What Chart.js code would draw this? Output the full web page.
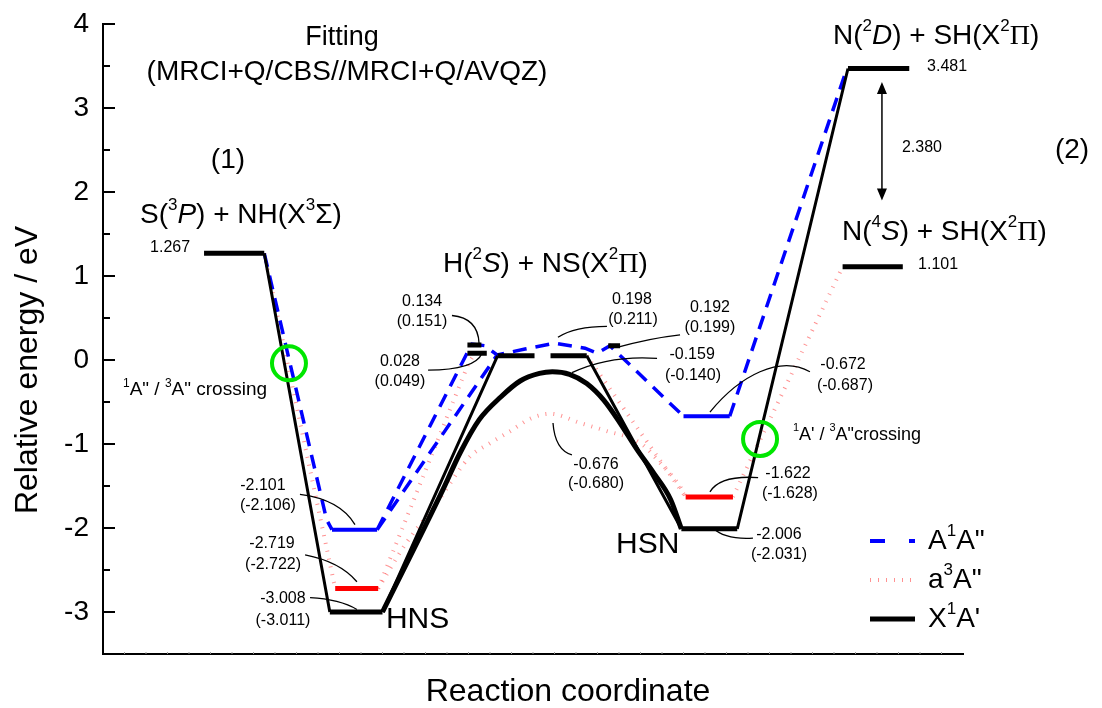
<!DOCTYPE html>
<html>
<head>
<meta charset="utf-8">
<script src="https://cdn.jsdelivr.net/npm/chart.js@4.4.1/dist/chart.umd.min.js"></script>
<style>
  html, body { margin: 0; padding: 0; background: #fff; }
</style>
</head>
<body>
<canvas id="pesChart" width="1102" height="708"></canvas>
<script>
const FONT = "'Liberation Sans', Arial, sans-serif";
const SERIF = "'Liberation Serif', 'Times New Roman', serif";

// energy axis (eV)
const yTicks = [-3, -2, -1, 0, 1, 2, 3, 4];

// legend names
const seriesNames = ["A1A\"", "a3A\"", "X1A'"];

// stationary points: [reaction coordinate start, end, energy / eV]
const x1Levels = [
    [4.7, 7.5, 1.27],     // S(3P) + NH
    [10.55, 13.0, -3.0],  // HNS
    [26.9, 29.5, -2.01],  // HSN
    [34.65, 37.5, 3.47],  // N(2D) + SH
    [34.4, 37.2, 1.11],   // N(4S) + SH
    [16.95, 17.6, 0.18],
    [16.95, 17.85, 0.08],
    [23.5, 24.05, 0.17],
];
const x1Asymptote = [[18.35, 22.5, 0.05]]; // H(2S) + NS
const a3Levels = [[10.8, 12.8, -2.72], [27.1, 29.3, -1.63]];
const a1Levels = [[10.65, 12.75, -2.02], [27.0, 29.15, -0.67]];

// connecting paths [reaction coordinate, energy]
const x1Paths = [
    [[7.5, 1.27], [10.55, -3.0]],
    [[13.0, -3.0], [18.35, 0.05]],
    [[22.5, 0.05], [26.9, -2.01]],
    [[29.5, -2.01], [34.65, 3.47]],
];
const x1Isomerization = [
    [13.0, -3.0], [15.8, -1.55], [16.6, -1.11], [17.5, -0.71], [18.5, -0.44],
    [19.4, -0.25], [20.3, -0.16], [20.9, -0.14], [21.7, -0.17], [22.5, -0.28],
    [23.3, -0.48], [24.05, -0.75], [24.85, -1.07], [25.6, -1.34], [26.4, -1.66],
    [26.9, -2.01],
];
const a1Paths = [
    [[7.5, 1.27], [10.4, -1.9], [10.65, -2.02]],
    [[12.75, -2.02], [16.93, 0.08], [17.16, 0.19], [17.77, 0.17], [18.33, 0.06],
     [19.63, 0.13], [21.02, 0.2], [22.42, 0.14], [22.98, 0.08], [23.58, 0.17], [27.0, -0.67]],
    [[12.75, -2.02], [18.33, 0.06]],
    [[29.15, -0.67], [34.6, 3.47]],
];
const a3Paths = [
    [[7.5, 1.27], [10.8, -2.72]],
    [[12.8, -2.72], [17.0, -0.04], [17.3, 0.08]],
    [[22.5, 0.05], [27.1, -1.63]],
    [[29.3, -1.63], [34.4, 1.11]],
];
const a3Isomerization = [
    [12.8, -2.72], [14.05, -2.2], [15.53, -1.7], [17.07, -1.15], [18.0, -0.99],
    [18.8, -0.87], [19.95, -0.69], [20.8, -0.64], [22.2, -0.75], [23.35, -0.84],
    [25.0, -0.99], [25.9, -1.22], [26.85, -1.51], [27.1, -1.63],
];

// energy labels: [x, y, text]
const valueLabels = [
    [3.12, 1.34, "1.267"], [39.26, 3.49, "3.481"], [38.09, 2.53, "2.380"], [38.84, 1.14, "1.101"],
    [7.44, -1.49, "-2.101"], [7.67, -1.73, "(-2.106)"],
    [7.86, -2.19, "-2.719"], [7.91, -2.44, "(-2.722)"],
    [8.37, -2.84, "-3.008"], [8.37, -3.10, "(-3.011)"],
    [14.84, 0.70, "0.134"], [14.84, 0.46, "(0.151)"],
    [13.81, -0.02, "0.028"], [13.81, -0.26, "(0.049)"],
    [24.6, 0.72, "0.198"], [24.65, 0.48, "(0.211)"],
    [28.23, 0.62, "0.192"], [28.23, 0.38, "(0.199)"],
    [27.4, 0.06, "-0.159"], [27.44, -0.19, "(-0.140)"],
    [34.42, -0.05, "-0.672"], [34.51, -0.30, "(-0.687)"],
    [22.93, -1.24, "-0.676"], [22.93, -1.47, "(-0.680)"],
    [31.86, -1.35, "-1.622"], [31.95, -1.59, "(-1.628)"],
    [31.44, -2.08, "-2.006"], [31.44, -2.32, "(-2.031)"],
];

// leader curves: [start, control(s)..., end] in [x, energy]
const leaders = [
    [[9.16, -1.60], [11.02, -1.66], [11.72, -1.96]],
    [[9.40, -2.32], [11.02, -2.40], [11.81, -2.64]],
    [[9.63, -2.83], [11.02, -2.85], [11.81, -2.97]],
    [[16.23, 0.53], [17.44, 0.50], [17.49, 0.20]],
    [[15.12, -0.12], [17.30, -0.12], [17.63, 0.08]],
    [[21.16, 0.27], [21.95, 0.40], [23.44, 0.40]],
    [[23.91, 0.15], [25.44, 0.26], [26.84, 0.30]],
    [[21.81, -0.15], [23.58, 0.06], [25.77, 0.02]],
    [[20.93, -0.75], [21.02, -1.07], [21.81, -1.13]],
    [[28.23, -0.62], [29.63, -0.18], [31.49, 0.06], [32.88, -0.14]],
    [[28.23, -1.57], [28.70, -1.37], [30.47, -1.40]],
    [[28.37, -2.00], [28.93, -2.14], [30.23, -2.12]],
];

// crossing points [x, energy]
const crossings = [[8.65, -0.04], [30.56, -0.94]];
// gap arrow between N(2D) and N(4S) asymptotes
const gapArrow = [36.23, 3.31, 1.90];

// rich text: [x, y, align, size, segments]; segment style '^' sup, 'i' italic, 's' serif
const textLabels = [
    [11.12, 3.84, "center", 27, [["Fitting", ""]]],
    [11.35, 3.42, "center", 28, [["(MRCI+Q/CBS//MRCI+Q/AVQZ)", ""]]],
    [5.81, 2.38, "center", 28, [["(1)", ""]]],
    [45.07, 2.50, "center", 28, [["(2)", ""]]],
    [1.72, 1.72, "left", 28, [["S(", ""], ["3", "^"], ["P", "i"], [") + NH(X", ""], ["3", "^"], ["\u03A3", ""], [")", ""]]],
    [15.81, 1.14, "left", 28, [["H(", ""], ["2", "^"], ["S", "i"], [") + NS(X", ""], ["2", "^"], ["\u03A0", "s"], [")", ""]]],
    [33.95, 3.85, "left", 28, [["N(", ""], ["2", "^"], ["D", "i"], [") + SH(X", ""], ["2", "^"], ["\u03A0", "s"], [")", ""]]],
    [34.37, 1.52, "left", 28, [["N(", ""], ["4", "^"], ["S", "i"], [") + SH(X", ""], ["2", "^"], ["\u03A0", "s"], [")", ""]]],
    [13.16, -3.09, "left", 30, [["HNS", ""]]],
    [23.86, -2.20, "left", 30, [["HSN", ""]]],
    [0.93, -0.36, "left", 19, [["1", "^"], ["A\" / ", ""], ["3", "^"], ["A\" crossing", ""]]],
    [32.09, -0.89, "left", 18, [["1", "^"], ["A' / ", ""], ["3", "^"], ["A\"crossing", ""]]],
];

const BLUE = "#0000ff";
const RED = "#ff0000";
const PINK = "rgba(255, 110, 110, 0.75)";

function joinPaths(paths) {
    const out = [];
    paths.forEach((p, i) => {
        if (i) out.push({ x: p[0][0], y: null });
        p.forEach(([x, y]) => out.push({ x: x, y: y }));
    });
    return out;
}
function levelPaths(levels) {
    return levels.map(([a, b, e]) => [[a, e], [b, e]]);
}

function segFont(s, size) {
    if (s === "^") return Math.round(size * 0.62) + "px " + FONT;
    if (s === "i") return "italic " + size + "px " + FONT;
    if (s === "s") return size + "px " + SERIF;
    return size + "px " + FONT;
}
function segWidth(ctx, segs, size) {
    let w = 0;
    segs.forEach(([t, s]) => {
        ctx.font = segFont(s, size);
        w += ctx.measureText(t).width;
    });
    return w;
}
function drawRich(ctx, segs, x, y, size, align) {
    let cx = align === "center" ? x - segWidth(ctx, segs, size) / 2 : x;
    ctx.textAlign = "left";
    ctx.textBaseline = "middle";
    segs.forEach(([t, s]) => {
        ctx.font = segFont(s, size);
        ctx.fillText(t, cx, s === "^" ? y - size * 0.36 : y);
        cx += ctx.measureText(t).width;
    });
}

const annotations = {
    id: "annotations",
    afterDraw(chart) {
        const ctx = chart.ctx;
        const xs = chart.scales.x, ys = chart.scales.y;
        const px = v => xs.getPixelForValue(v);
        const py = v => ys.getPixelForValue(v);
        const area = chart.chartArea;
        ctx.save();
        ctx.fillStyle = "#000";
        ctx.strokeStyle = "#000";

        // inward ticks on the energy axis
        ctx.lineWidth = 2;
        for (let v = -3.5; v <= 4; v += 0.5) {
            const len = Number.isInteger(v) ? 12 : 7;
            ctx.beginPath();
            ctx.moveTo(area.left, py(v));
            ctx.lineTo(area.left + len, py(v));
            ctx.stroke();
        }
        ctx.lineWidth = 1;
        ctx.strokeStyle = "#999";
        for (let v = 1; v < 40; v++) {
            ctx.beginPath();
            ctx.moveTo(px(v), area.bottom);
            ctx.lineTo(px(v), area.bottom - 2);
            ctx.stroke();
        }
        ctx.strokeStyle = "#000";

        // leader curves
        ctx.lineWidth = 1.3;
        leaders.forEach(l => {
            const p = l.map(([x, y]) => [px(x), py(y)]);
            ctx.beginPath();
            ctx.moveTo(p[0][0], p[0][1]);
            if (p.length === 3) ctx.quadraticCurveTo(p[1][0], p[1][1], p[2][0], p[2][1]);
            else ctx.bezierCurveTo(p[1][0], p[1][1], p[2][0], p[2][1], p[3][0], p[3][1]);
            ctx.stroke();
        });

        // crossing circles
        ctx.strokeStyle = "#00e600";
        ctx.lineWidth = 4;
        crossings.forEach(([x, y]) => {
            ctx.beginPath();
            ctx.arc(px(x), py(y), 17, 0, Math.PI * 2);
            ctx.stroke();
        });

        // double-headed arrow
        const ax = px(gapArrow[0]), ay1 = py(gapArrow[1]), ay2 = py(gapArrow[2]);
        ctx.strokeStyle = "#000";
        ctx.lineWidth = 1.5;
        ctx.beginPath();
        ctx.moveTo(ax, ay1 + 8);
        ctx.lineTo(ax, ay2 - 8);
        ctx.stroke();
        ctx.beginPath();
        ctx.moveTo(ax, ay1); ctx.lineTo(ax - 5, ay1 + 12); ctx.lineTo(ax + 5, ay1 + 12); ctx.closePath();
        ctx.moveTo(ax, ay2); ctx.lineTo(ax - 5, ay2 - 12); ctx.lineTo(ax + 5, ay2 - 12); ctx.closePath();
        ctx.fill();

        // energy values
        ctx.textAlign = "center";
        ctx.textBaseline = "middle";
        ctx.font = "16px " + FONT;
        valueLabels.forEach(([x, y, t]) => ctx.fillText(t, px(x), py(y)));

        // species and notes
        textLabels.forEach(([x, y, align, size, segs]) => drawRich(ctx, segs, px(x), py(y), size, align));

        // legend
        const legendRows = [
            { y: 541, color: BLUE, width: 4, dash: [15, 24], name: [["A", ""], ["1", "^"], ["A\"", ""]] },
            { y: 580, color: PINK, width: 4, dash: [1, 7], name: [["a", ""], ["3", "^"], ["A\"", ""]] },
            { y: 619, color: "#000", width: 5, dash: [], name: [["X", ""], ["1", "^"], ["A'", ""]] },
        ];
        legendRows.forEach(r => {
            ctx.strokeStyle = r.color;
            ctx.lineWidth = r.width;
            ctx.setLineDash(r.dash);
            ctx.beginPath();
            ctx.moveTo(870, r.y);
            ctx.lineTo(915, r.y);
            ctx.stroke();
            ctx.setLineDash([]);
            ctx.fillStyle = "#000";
            drawRich(ctx, r.name, 928, r.y, 28, "left");
        });

        // axis titles
        ctx.fillStyle = "#000";
        ctx.font = "32px " + FONT;
        ctx.textAlign = "center";
        ctx.textBaseline = "middle";
        ctx.fillText("Reaction coordinate", 568, 692);
        ctx.save();
        ctx.translate(28, 370);
        ctx.rotate(-Math.PI / 2);
        ctx.font = "32px " + FONT;
        ctx.fillText("Relative energy / eV", 0, 0);
        ctx.restore();

        ctx.restore();
    },
};

const canvas = document.getElementById("pesChart");

new Chart(canvas, {
    type: "line",
    data: {
        datasets: [
            { label: seriesNames[2], data: joinPaths(levelPaths(x1Levels)), borderColor: "#000", borderWidth: 5, order: 0 },
            { label: seriesNames[2], data: joinPaths(levelPaths(x1Asymptote)), borderColor: "#000", borderWidth: 5, borderDash: [37, 16], order: 0 },
            { label: seriesNames[2], data: joinPaths(x1Paths), borderColor: "#000", borderWidth: 3, order: 1 },
            { label: seriesNames[2], data: joinPaths([x1Isomerization]), borderColor: "#000", borderWidth: 5, cubicInterpolationMode: "monotone", order: 1 },
            { label: seriesNames[0], data: joinPaths(levelPaths(a1Levels)), borderColor: BLUE, borderWidth: 4, order: 2 },
            { label: seriesNames[0], data: joinPaths(a1Paths), borderColor: BLUE, borderWidth: 3.5, borderDash: [14, 9], order: 3 },
            { label: seriesNames[1], data: joinPaths(levelPaths(a3Levels)), borderColor: RED, borderWidth: 5, order: 4 },
            { label: seriesNames[1], data: joinPaths(a3Paths), borderColor: PINK, borderWidth: 4, borderDash: [1, 7], order: 5 },
            { label: seriesNames[1], data: joinPaths([a3Isomerization]), borderColor: PINK, borderWidth: 4, borderDash: [1, 7], cubicInterpolationMode: "monotone", order: 5 },
        ],
    },
    options: {
        responsive: false,
        animation: false,
        devicePixelRatio: 1,
        layout: { padding: { top: 24, right: 139, left: 0, bottom: 0 } },
        plugins: { legend: { display: false }, tooltip: { enabled: false } },
        elements: {
            point: { radius: 0, hoverRadius: 0 },
            line: { tension: 0, borderCapStyle: "butt", fill: false },
        },
        scales: {
            x: {
                type: "linear",
                min: 0,
                max: 40,
                ticks: { display: false },
                grid: { display: false, drawTicks: false },
                border: { color: "#000", width: 2 },
                afterFit: (scale) => { scale.height = 54; },
            },
            y: {
                type: "linear",
                min: -3.5,
                max: 4,
                ticks: { font: { family: FONT, size: 28 }, color: "#000", padding: 14 },
                grid: { display: false, drawTicks: false },
                border: { color: "#000", width: 2 },
                afterBuildTicks: (scale) => { scale.ticks = yTicks.map(v => ({ value: v })); },
                afterFit: (scale) => {
                    scale.width = 103;
                    scale.paddingTop = 0;
                    scale.paddingBottom = 0;
                },
            },
        },
    },
    plugins: [annotations],
});
</script>
</body>
</html>
